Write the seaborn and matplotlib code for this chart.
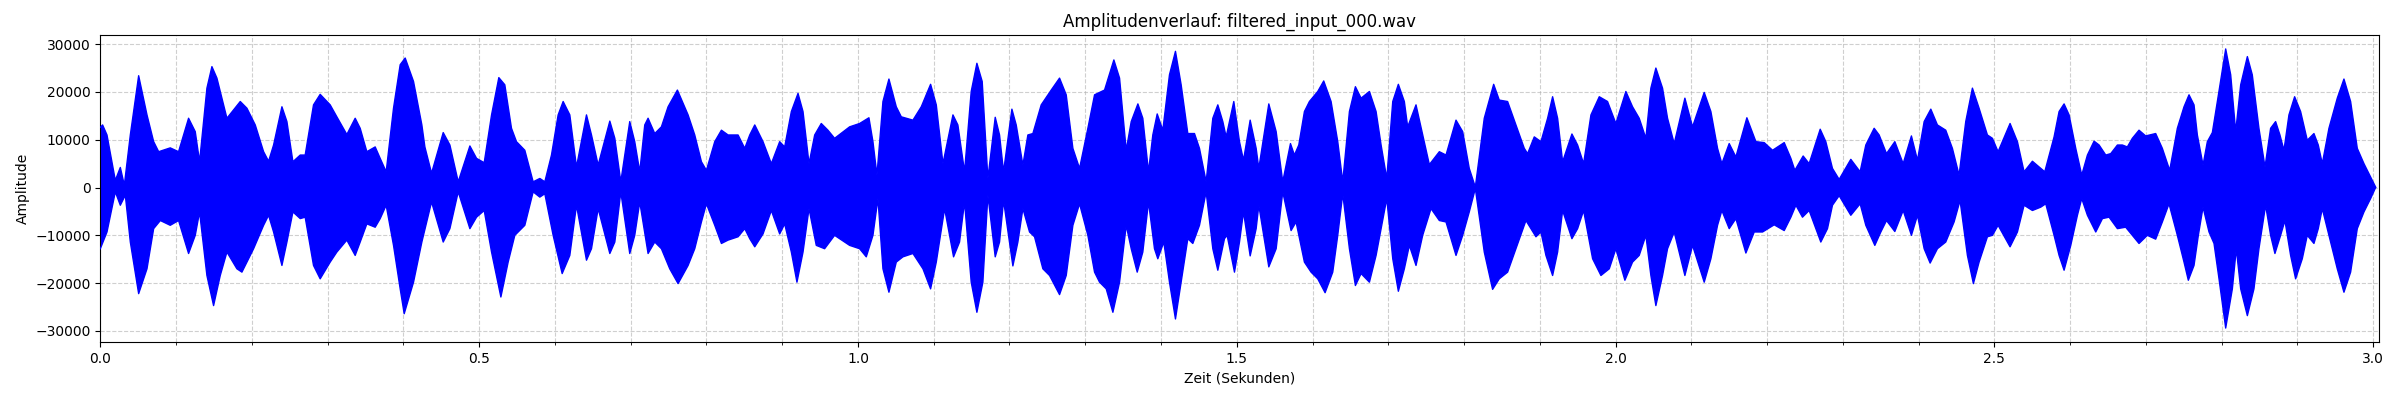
import numpy as np
import matplotlib
matplotlib.use("Agg")
import matplotlib.pyplot as plt
from matplotlib.ticker import MultipleLocator
import seaborn as sns

# upper envelope of the signal (seconds, amplitude)
time_upper = [
    0.000, 0.003, 0.0088, 0.0198, 0.0264, 0.0317, 0.0396, 0.0506, 0.0616, 0.0704,
    0.0770, 0.0923, 0.1033, 0.1165, 0.1253, 0.1310, 0.1407, 0.1473, 0.1539, 0.1671,
    0.1847, 0.1935, 0.2045, 0.2155, 0.2221, 0.2287, 0.2397, 0.2463, 0.2542, 0.2639,
    0.2704, 0.2814, 0.2902, 0.3034, 0.3122, 0.3254, 0.3364, 0.3430, 0.3518, 0.3628,
    0.3694, 0.3773, 0.3870, 0.3958, 0.4024, 0.4134, 0.4244, 0.4284,
    0.4372, 0.4526, 0.4614, 0.4724, 0.4878, 0.4966, 0.5067, 0.5164, 0.5260, 0.5339,
    0.5427, 0.5493, 0.5603, 0.5713, 0.5801, 0.5867, 0.5955, 0.6043, 0.6109, 0.6197,
    0.6285, 0.6417, 0.6483, 0.6571, 0.6725, 0.6791, 0.6870, 0.6988, 0.7054, 0.7120,
    0.7186, 0.7230, 0.7318, 0.7406, 0.7494, 0.7617, 0.7758, 0.7846, 0.7934, 0.8000,
    0.8110, 0.8198, 0.8286, 0.8418, 0.8506, 0.8572, 0.8638,
    0.8747, 0.8857, 0.8967, 0.9033, 0.9121, 0.9209, 0.9275, 0.9354, 0.9429, 0.9516,
    0.9604, 0.9692, 0.9890, 1.0022, 1.0145, 1.0198, 1.0251, 1.0330, 1.0409, 1.0506,
    1.0572, 1.0726, 1.0836, 1.0959, 1.1034, 1.1122, 1.1254, 1.1319, 1.1407, 1.1495,
    1.1570, 1.1640, 1.1715, 1.1812, 1.1869, 1.1922, 1.2032, 1.2089, 1.2177, 1.2243,
    1.2309, 1.2419, 1.2551, 1.2661, 1.2749, 1.2837, 1.2925,
    1.3035, 1.3123, 1.3255, 1.3378, 1.3453, 1.3541, 1.3607, 1.3695, 1.3760, 1.3835,
    1.3892, 1.3950, 1.4024, 1.4112, 1.4191, 1.4266, 1.4354, 1.4442, 1.4508, 1.4596,
    1.4684, 1.4750, 1.4816, 1.4860, 1.4961, 1.5036, 1.5089, 1.5177, 1.5256, 1.5291,
    1.5423, 1.5520, 1.5607, 1.5709, 1.5761, 1.5819, 1.5893, 1.5959, 1.6069, 1.6148,
    1.6245, 1.6333, 1.6399, 1.6487, 1.6566, 1.6641, 1.6751, 1.6839, 1.6905, 1.6980,
    1.7059, 1.7133, 1.7212,
    1.7256, 1.7366, 1.7454, 1.7542, 1.7674, 1.7762, 1.7894, 1.7982, 1.8069, 1.8149,
    1.8267, 1.8391, 1.8465, 1.8575, 1.8685, 1.8795, 1.8839, 1.8927, 1.9015, 1.9103,
    1.9169, 1.9235, 1.9301, 1.9424, 1.9499, 1.9578, 1.9675, 1.9785, 1.9894, 2.0004,
    2.0136, 2.0224, 2.0312, 2.0400, 2.0466, 2.0532, 2.0620, 2.0686, 2.0774, 2.0915,
    2.1016, 2.1170, 2.1258, 2.1346, 2.1403, 2.1500,
    2.1588, 2.1733, 2.1852, 2.1962, 2.2072, 2.2226, 2.2314, 2.2366, 2.2476, 2.2555,
    2.2701, 2.2775, 2.2863, 2.2951, 2.3105, 2.3228, 2.3303, 2.3413, 2.3479, 2.3576,
    2.3686, 2.3796, 2.3905, 2.3985, 2.4073, 2.4161, 2.4248, 2.4358, 2.4446, 2.4534,
    2.4622, 2.4710, 2.4798, 2.4908, 2.4974, 2.5049, 2.5207, 2.5304, 2.5392, 2.5502,
    2.5590, 2.5665, 2.5788,
    2.5854, 2.5920, 2.5986, 2.6074, 2.6153, 2.6228, 2.6316, 2.6382, 2.6470, 2.6536,
    2.6624, 2.6689, 2.6755, 2.6821, 2.6909, 2.6997, 2.7129, 2.7217, 2.7314, 2.7415,
    2.7503, 2.7569, 2.7635, 2.7679, 2.7754, 2.7811, 2.7877, 2.7943, 2.8053, 2.8119,
    2.8185, 2.8251, 2.8339, 2.8404, 2.8492, 2.8572, 2.8646, 2.8712, 2.8769, 2.8822,
    2.8888, 2.8963, 2.9042, 2.9130, 2.9218, 2.9275, 2.9328, 2.9416, 2.9526, 2.9614,
    2.9702, 2.9790, 2.9878, 2.9966, 3.0032,
]
amp_upper = [
    12600, 13100, 11000, 1500, 4200, 500, 11000, 23400, 15200, 9600,
    7500, 8300, 7500, 14500, 11700, 5400, 20800, 25300, 22900, 14500,
    18000, 16600, 13100, 7500, 5500, 8900, 16900, 13800, 5400, 6800,
    6800, 17300, 19500, 17300, 14800, 11100, 14500, 12400, 7500, 8500,
    6100, 3300, 16600, 25700, 27100, 22200, 13100, 8500,
    3000, 11500, 8900, 1200, 8700, 6100, 5200, 15200, 23000, 21500,
    12400, 9600, 7800, 1200, 1900, 1200, 6800, 15200, 18000, 15200,
    4300, 15200, 11000, 4700, 13900, 10300, 1200, 13800, 9600, 3300,
    13100, 14500, 11300, 12700, 16900, 20400, 15200, 11000, 5400, 3600,
    9600, 12000, 11000, 11000, 8200, 11000, 13100,
    9600, 5000, 9600, 8500, 15900, 19700, 15900, 5000, 11000, 13400,
    12000, 10300, 12700, 13400, 14600, 9600, 2600, 18000, 22700, 16900,
    14800, 14100, 16900, 21600, 17300, 5000, 15200, 13100, 3300, 20100,
    26000, 22200, 1900, 14700, 11000, 3300, 16400, 13100, 4700, 11000,
    11300, 17300, 20400, 22900, 19400, 8200, 4000,
    12400, 19400, 20400, 26700, 22900, 7800, 13800, 17500, 14500, 3300,
    11000, 15400, 12000, 23600, 28500, 21500, 11300, 11300, 8200, 1200,
    14500, 17300, 13800, 10600, 18000, 9600, 5700, 14100, 8200, 4000,
    17500, 11700, 1200, 9200, 6800, 8900, 15900, 18000, 20100, 22300,
    18000, 9600, 1200, 15900, 21100, 18700, 20100, 15900, 8900, 1900,
    18000, 21600, 18000,
    12700, 17300, 11000, 4800, 7500, 6800, 14100, 11700, 4000, 100,
    14500, 21600, 18300, 18000, 13100, 8200, 7100, 10600, 9600, 14500,
    19000, 14500, 5400, 11200, 8900, 5000, 15200, 19000, 18000, 13400,
    20100, 16900, 14500, 10300, 20800, 25000, 20800, 14500, 9200, 18700,
    12700, 19900, 15900, 8200, 5000, 9200,
    6400, 14600, 9600, 9400, 7800, 9400, 6100, 3600, 6600, 5000,
    12200, 9600, 4000, 1700, 5900, 3300, 8900, 12400, 11000, 7100,
    9600, 5000, 10800, 5700, 13800, 16400, 13100, 12000, 8200, 2600,
    13800, 20800, 16600, 11000, 10300, 7500, 13400, 9600, 3300, 5500,
    4300, 3300, 10600,
    15900, 17500, 15200, 8200, 2600, 6800, 9700, 8900, 6800, 7100,
    8900, 8900, 8500, 10300, 12000, 10800, 11300, 8200, 3600, 12400,
    16900, 19400, 17300, 11000, 4700, 9600, 11500, 18000, 29000, 23600,
    11700, 21500, 27400, 23600, 12400, 4300, 12400, 13800, 11000, 7800,
    15200, 19000, 15900, 9900, 11300, 8900, 5000, 12400, 18700, 22700,
    18000, 8200, 5000, 2200, 100,
]

# lower envelope of the signal (seconds, amplitude)
time_lower = [
    0.000, 0.0088, 0.0198, 0.0264, 0.0330, 0.0396, 0.0506, 0.0616, 0.0704, 0.0792,
    0.0923, 0.1033, 0.1165, 0.1253, 0.1310, 0.1407, 0.1495, 0.1583, 0.1671, 0.1803,
    0.1869, 0.2023, 0.2155, 0.2221, 0.2287, 0.2397, 0.2463, 0.2542, 0.2639, 0.2704,
    0.2814, 0.2902, 0.3034, 0.3122, 0.3254, 0.3364, 0.3430, 0.3518, 0.3628, 0.3694,
    0.3773, 0.3870, 0.3958, 0.4011, 0.4134, 0.4244,
    0.4372, 0.4526, 0.4614, 0.4724, 0.4878, 0.4966, 0.5067, 0.5164, 0.5287, 0.5383,
    0.5471, 0.5603, 0.5713, 0.5801, 0.5867, 0.5977, 0.6096, 0.6197, 0.6285, 0.6417,
    0.6483, 0.6571, 0.6725, 0.6791, 0.6870, 0.6988, 0.7054, 0.7120, 0.7230, 0.7318,
    0.7406, 0.7516, 0.7626, 0.7758, 0.7846, 0.7934, 0.8000, 0.8110, 0.8198, 0.8286,
    0.8418, 0.8506, 0.8572, 0.8638,
    0.8747, 0.8857, 0.8967, 0.9033, 0.9121, 0.9195, 0.9275, 0.9354, 0.9450, 0.9560,
    0.9692, 0.9890, 1.0022, 1.0110, 1.0198, 1.0264, 1.0330, 1.0409, 1.0506, 1.0594,
    1.0726, 1.0858, 1.0959, 1.1034, 1.1144, 1.1262, 1.1341, 1.1407, 1.1495, 1.1570,
    1.1649, 1.1715, 1.1812, 1.1869, 1.1922, 1.2045, 1.2111, 1.2177, 1.2265, 1.2331,
    1.2441, 1.2529, 1.2661, 1.2749, 1.2837, 1.2925,
    1.3035, 1.3123, 1.3189, 1.3277, 1.3365, 1.3453, 1.3541, 1.3607, 1.3686, 1.3760,
    1.3835, 1.3914, 1.3958, 1.4037, 1.4112, 1.4191, 1.4266, 1.4354, 1.4420, 1.4508,
    1.4596, 1.4684, 1.4750, 1.4838, 1.4873, 1.4970, 1.5036, 1.5089, 1.5177, 1.5256,
    1.5291, 1.5423, 1.5520, 1.5607, 1.5717, 1.5783, 1.5893, 1.5981, 1.6069, 1.6166,
    1.6267, 1.6333, 1.6399, 1.6487, 1.6566, 1.6641, 1.6751, 1.6839, 1.6905, 1.6980,
    1.7059, 1.7133, 1.7212,
    1.7278, 1.7366, 1.7454, 1.7564, 1.7674, 1.7762, 1.7894, 1.7982, 1.8069, 1.8149,
    1.8267, 1.8377, 1.8465, 1.8575, 1.8685, 1.8817, 1.8949, 1.9015, 1.9081, 1.9169,
    1.9235, 1.9301, 1.9424, 1.9499, 1.9578, 1.9697, 1.9807, 1.9917, 2.0004, 2.0123,
    2.0224, 2.0312, 2.0400, 2.0466, 2.0532, 2.0620, 2.0686, 2.0774, 2.0915, 2.1016,
    2.1170, 2.1258, 2.1346, 2.1403, 2.1500,
    2.1588, 2.1720, 2.1830, 2.1940, 2.2094, 2.2226, 2.2314, 2.2380, 2.2467, 2.2555,
    2.2709, 2.2797, 2.2863, 2.2951, 2.3105, 2.3228, 2.3303, 2.3422, 2.3501, 2.3576,
    2.3686, 2.3796, 2.3905, 2.3985, 2.4073, 2.4152, 2.4248, 2.4358, 2.4468, 2.4547,
    2.4644, 2.4723, 2.4798, 2.4908, 2.4974, 2.5049, 2.5207, 2.5304, 2.5392, 2.5502,
    2.5612, 2.5678, 2.5788,
    2.5854, 2.5920, 2.6008, 2.6096, 2.6153, 2.6228, 2.6338, 2.6426, 2.6514, 2.6624,
    2.6733, 2.6821, 2.6909, 2.7019, 2.7129, 2.7217, 2.7305, 2.7415, 2.7503, 2.7560,
    2.7635, 2.7692, 2.7754, 2.7833, 2.7899, 2.7965, 2.8053, 2.8141, 2.8193, 2.8251,
    2.8339, 2.8426, 2.8492, 2.8580, 2.8646, 2.8703, 2.8778, 2.8835, 2.8910, 2.8976,
    2.9064, 2.9130, 2.9218, 2.9275, 2.9328, 2.9438, 2.9526, 2.9614, 2.9702, 2.9790,
    2.9878, 2.9966, 3.0032,
]
amp_lower = [
    -12800, -9300, -900, -3700, -1600, -11400, -22200, -17000, -8600, -6900,
    -7900, -6900, -13800, -10000, -5100, -18400, -24700, -18400, -13500, -17000,
    -17700, -12800, -7900, -5800, -9300, -16300, -11400, -5100, -6500, -6200,
    -16300, -19100, -15600, -13500, -11000, -14200, -11400, -7600, -8300, -6500,
    -3700, -12100, -21200, -26400, -19800, -11400,
    -3000, -11400, -8600, -900, -8600, -6200, -4800, -13500, -22900, -15600,
    -10000, -7900, -900, -2000, -1300, -10000, -18000, -14200, -3700, -15200,
    -12800, -4400, -13800, -11400, -900, -13800, -10000, -3000, -13800, -11400,
    -12800, -17000, -20100, -16300, -12800, -7200, -3400, -7900, -11700, -11000,
    -10300, -8600, -10700, -12400,
    -9700, -4800, -9700, -7600, -13500, -19800, -13500, -4400, -12100, -12800,
    -10000, -12100, -12800, -14500, -10000, -2300, -17000, -21900, -15600, -14500,
    -13800, -17000, -21200, -15600, -4400, -14500, -11400, -3000, -19800, -26100,
    -19800, -1600, -14500, -11400, -2700, -16400, -11400, -4400, -9300, -10300,
    -17000, -18400, -22400, -18400, -7900, -3400,
    -10000, -17700, -19800, -21200, -26100, -19800, -7900, -12800, -17700, -13500,
    -3000, -12800, -14900, -11400, -19800, -27500, -19800, -10700, -11700, -7900,
    -900, -12800, -17300, -10700, -10000, -17700, -11400, -5100, -14300, -8600,
    -3700, -16600, -12800, -900, -9000, -7200, -15600, -17700, -19100, -22000,
    -17700, -10000, -1300, -12800, -20500, -18000, -19800, -14200, -8600, -2300,
    -14900, -21700, -17000,
    -12100, -16300, -10000, -4400, -6900, -7200, -14200, -10000, -5100, -200,
    -13500, -21300, -19100, -17700, -12800, -6900, -10300, -9300, -14200, -18400,
    -13500, -4800, -10700, -8600, -4800, -14900, -18400, -17000, -12800, -19400,
    -15600, -14200, -10000, -18400, -24700, -18400, -12800, -9300, -18400, -12100,
    -19800, -14900, -7900, -4800, -8600,
    -6500, -13700, -9300, -9300, -7800, -9000, -6200, -3700, -6200, -4800,
    -11400, -8600, -3700, -1700, -5800, -3400, -7900, -12100, -9300, -6900,
    -9200, -4800, -10000, -5800, -12800, -15800, -12800, -11400, -7200, -2700,
    -14200, -20100, -15600, -10300, -10000, -7900, -12400, -9300, -3700, -4800,
    -4100, -3400, -10000,
    -14200, -17300, -12100, -5800, -2300, -5800, -9300, -6500, -6200, -8600,
    -8300, -10000, -11700, -10000, -10800, -7200, -3400, -10000, -15600, -19400,
    -16300, -10000, -4100, -9300, -11700, -19100, -29400, -21200, -12800, -21200,
    -26800, -21200, -12800, -3700, -10000, -13800, -10000, -6900, -14200, -19100,
    -14900, -10000, -11700, -8600, -4400, -11400, -17000, -21900, -17700, -8600,
    -5100, -2300, 0,
]

title = "Amplitudenverlauf: filtered_input_000.wav"
duration = 3.0075

fig, ax = plt.subplots(figsize=(24, 4), dpi=100)
fig.subplots_adjust(left=0.0418, right=0.9912, top=0.9125, bottom=0.145)

# dense waveform: fill between the two envelopes
poly_t = np.concatenate([time_upper, time_lower[::-1]])
poly_a = np.concatenate([amp_upper, amp_lower[::-1]])
ax.fill(poly_t, poly_a, color="blue", linewidth=0, zorder=2)
sns.lineplot(x=time_upper, y=amp_upper, color="blue", linewidth=1,
             sort=False, estimator=None, ax=ax, zorder=3)
sns.lineplot(x=time_lower, y=amp_lower, color="blue", linewidth=1,
             sort=False, estimator=None, ax=ax, zorder=3)

ax.set_xlim(0, duration)
ax.xaxis.set_major_locator(MultipleLocator(0.5))
ax.xaxis.set_minor_locator(MultipleLocator(0.1))
ax.yaxis.set_major_locator(MultipleLocator(10000))
ax.grid(True, which="both", linestyle="--", alpha=0.6)

ax.set_title(title)
ax.set_xlabel("Zeit (Sekunden)")
ax.set_ylabel("Amplitude")

fig.savefig("out.png", dpi=100)
